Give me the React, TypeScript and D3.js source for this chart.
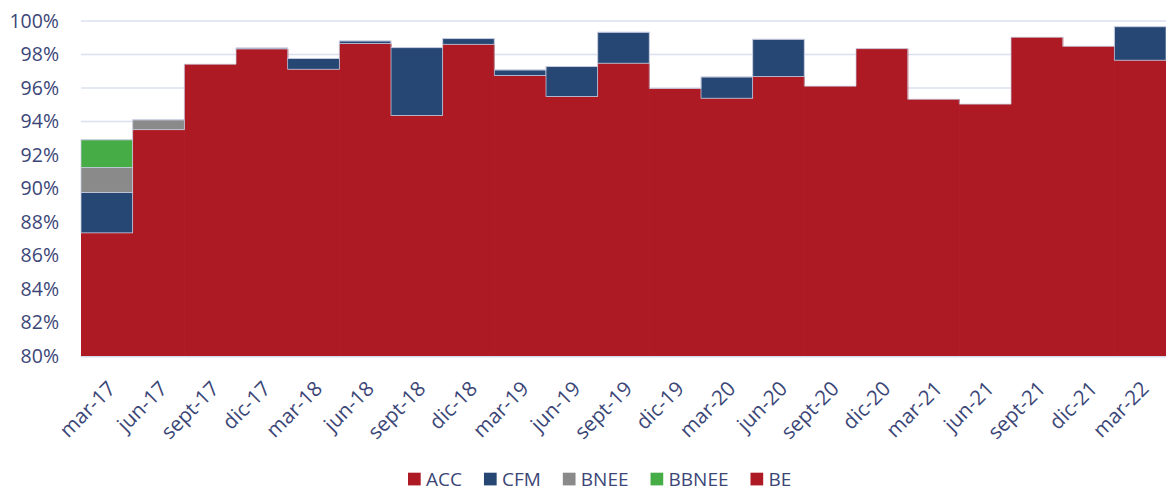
import React, { useEffect, useRef } from 'react'
import * as d3 from 'd3'

const categories = ['mar-17', 'jun-17', 'sept-17', 'dic-17', 'mar-18', 'jun-18', 'sept-18', 'dic-18', 'mar-19', 'jun-19', 'sept-19', 'dic-19', 'mar-20', 'jun-20', 'sept-20', 'dic-20', 'mar-21', 'jun-21', 'sept-21', 'dic-21', 'mar-22']

const acc = [87.35, 93.51, 97.42, 98.33, 97.12, 98.65, 94.36, 98.61, 96.74, 95.49, 97.48, 95.97, 95.39, 96.68, 96.11, 98.35, 95.33, 95.04, 99.03, 98.49, 97.66]
const cfm = [2.42, 0, 0, 0.06, 0.64, 0.16, 4.05, 0.34, 0.34, 1.79, 1.85, 0, 1.27, 2.23, 0, 0, 0, 0, 0, 0, 2.0]
const bnee = [1.49, 0.59, 0, 0, 0, 0, 0, 0, 0, 0, 0, 0, 0, 0, 0, 0, 0, 0, 0, 0, 0]
const bbnee = [1.65, 0, 0, 0, 0, 0, 0, 0, 0, 0, 0, 0, 0, 0, 0, 0, 0, 0, 0, 0, 0]
const be = [0, 0, 0, 0, 0, 0, 0, 0, 0, 0, 0, 0, 0, 0, 0, 0, 0, 0, 0, 0, 0]

const seriesNames = ['ACC', 'CFM', 'BNEE', 'BBNEE', 'BE']
const seriesColors = ['#ad1a24', '#264773', '#8a8a8a', '#46ad46', '#ad1a24']
const yTicks = [80, 82, 84, 86, 88, 90, 92, 94, 96, 98, 100]

const width = 1166
const height = 492
const margin = { top: 21, right: 0, bottom: 136, left: 81 }
const textColor = '#3b4677'
const edgeColor = '#c8cce0'
const font = '"Open Sans", "Noto Sans", sans-serif'

export default function App() {
  const ref = useRef<SVGSVGElement>(null)

  useEffect(() => {
    const svg = d3.select(ref.current)
    svg.selectAll('*').remove()

    const rows = categories.map((c, i) => ({ cat: c, ACC: acc[i], CFM: cfm[i], BNEE: bnee[i], BBNEE: bbnee[i], BE: be[i] }))
    const stack = d3.stack().keys(seriesNames)(rows as any)

    const x = d3.scaleBand().domain(categories).range([margin.left, width - margin.right]).padding(0)
    const y = d3.scaleLinear().domain([80, 100]).range([height - margin.bottom, margin.top])

    // grid
    svg.append('g').selectAll('line').data(yTicks).join('line')
      .attr('x1', margin.left).attr('x2', width)
      .attr('y1', d => y(d)).attr('y2', d => y(d))
      .attr('stroke', '#dbe0f0').attr('stroke-width', 1.5)

    // y labels
    svg.append('g').selectAll('text').data(yTicks).join('text')
      .attr('x', 59).attr('y', d => y(d)).attr('dy', '0.35em')
      .attr('text-anchor', 'end')
      .attr('font-family', font).attr('font-size', 19.5).attr('fill', textColor)
      .text(d => d + '%')

    // stacked bars; base layer slightly overlapped and unstroked so neighbours merge
    stack.forEach((layer, li) => {
      svg.append('g').selectAll('rect').data(layer.filter(d => d[1] - d[0] > 0)).join('rect')
        .attr('x', d => x((d.data as any).cat)!)
        .attr('width', x.bandwidth() + (li === 0 ? 0.6 : 0))
        .attr('y', d => y(Math.min(d[1], 100)))
        .attr('height', d => y(Math.max(d[0], 80)) - y(Math.min(d[1], 100)))
        .attr('fill', seriesColors[li])
        .attr('stroke', li === 0 ? 'none' : edgeColor)
        .attr('stroke-width', 0.75)
    })

    // outer step outline on top of the stacks
    const top = stack[stack.length - 1]
    const pts: [number, number][] = []
    top.forEach(d => {
      const x0 = x((d.data as any).cat)!
      pts.push([x0, y(d[1])], [x0 + x.bandwidth(), y(d[1])])
    })
    svg.append('path').attr('d', d3.line()(pts))
      .attr('fill', 'none').attr('stroke', edgeColor).attr('stroke-width', 0.75)

    // base line
    svg.append('line').attr('x1', margin.left).attr('x2', width)
      .attr('y1', y(80) + 0.75).attr('y2', y(80) + 0.75)
      .attr('stroke', '#d6dbeb').attr('stroke-width', 1.5)

    // x labels
    svg.append('g').selectAll('text').data(categories).join('text')
      .attr('transform', d => `translate(${x(d)! + x.bandwidth() / 2 + 10},${390}) rotate(-45)`)
      .attr('text-anchor', 'end')
      .attr('font-family', font).attr('font-size', 20.5).attr('fill', textColor)
      .text(d => d)

    // legend
    const lg = svg.append('g').attr('transform', 'translate(0,479)')
    let lx = 408
    seriesNames.forEach((name, i) => {
      lg.append('rect').attr('x', lx).attr('y', -6.3).attr('width', 12.7).attr('height', 12.7).attr('fill', seriesColors[i])
      const t = lg.append('text').attr('x', lx + 18).attr('y', 0).attr('dy', '0.36em')
        .attr('font-family', font).attr('font-size', 19).attr('fill', textColor).text(name)
      const w = (t.node() as SVGTextElement).getComputedTextLength()
      lx += 18 + w + 22
    })
  })

  return <svg ref={ref} width={width} height={height} viewBox={`0 0 ${width} ${height}`}
    style={{ position: 'absolute', left: 0, top: 0, background: '#fff' }} />
}
